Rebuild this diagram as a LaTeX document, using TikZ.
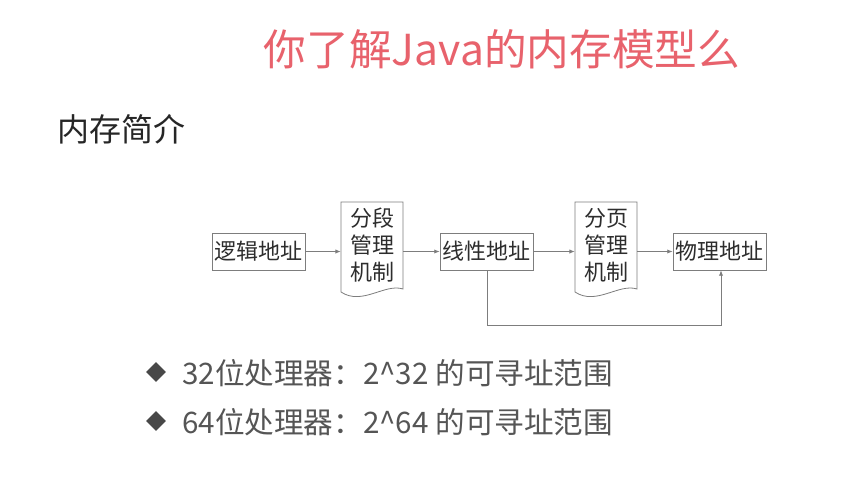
\documentclass[tikz,border=0pt]{standalone}
\usepackage{fontspec}
\setmainfont{Noto Sans CJK SC}
\usetikzlibrary{arrows.meta,shapes.geometric}
\definecolor{titlered}{RGB}{232,98,108}
\definecolor{linegray}{RGB}{125,125,125}
\definecolor{boxtext}{RGB}{45,45,45}
\definecolor{bullettext}{RGB}{85,85,85}
\begin{document}
\begin{tikzpicture}[x=0.75pt,y=-0.75pt,
  addrbox/.style={draw=linegray,line width=0.6pt,minimum width=93*0.75pt,minimum height=37*0.75pt,inner sep=0pt,text=boxtext,font=\fontsize{16.5}{18}\selectfont},
  docnode/.style={minimum width=62*0.75pt,minimum height=86*0.75pt,inner sep=0pt,text=boxtext,align=center,font=\fontsize{16.5}{20.3}\selectfont},
  docline/.style={draw=linegray,line width=0.6pt},
  conn/.style={draw=linegray,line width=0.6pt,-{Latex[length=4pt,width=3.2pt]}},
  bulletmark/.style={diamond,fill=bullettext!85!black,minimum width=20*0.75pt,minimum height=20*0.75pt,inner sep=0pt},
  bullettxt/.style={anchor=west,text=bullettext,inner sep=0pt,font=\fontsize{22.2}{24}\selectfont}]
\useasboundingbox[fill=white] (0,0) rectangle (859,496);

\node[text=titlered,font=\fontsize{32}{34}\selectfont] (title) at (502,49) {你了解Java的内存模型么};
\node[anchor=west,text=black!85,inner sep=0pt,font=\fontsize{24}{26}\selectfont] (intro) at (57,129) {内存简介};

\node[addrbox] (logic) at (258.5,251.5) {逻辑地址};
\node[docnode] (seg) at (372,245) {分段\\管理\\机制};
\node[addrbox] (linear) at (486.5,251.5) {线性地址};
\node[docnode] (page) at (606,245) {分页\\管理\\机制};
\node[addrbox] (phys) at (719.5,251.5) {物理地址};

\draw[docline] (341,292) -- (341,202) -- (403,202) -- (403,289)
  .. controls (385,283) and (362,306) .. cycle;
\draw[docline] (575,292) -- (575,202) -- (637,202) -- (637,289)
  .. controls (619,283) and (596,306) .. cycle;

\draw[conn] (logic.east) -- (seg.west |- logic.east);
\draw[conn] (seg.east |- linear.west) -- (linear.west);
\draw[conn] (linear.east) -- (page.west |- linear.east);
\draw[conn] (page.east |- phys.west) -- (phys.west);
\coordinate (c1) at (487,325);
\coordinate (c2) at (721,325);
\draw[conn] (c1 |- linear.south) -- (c1) -- (c2) -- (c2 |- phys.south);

\node[bulletmark] (b1) at (156,372) {};
\node[bullettxt] (t1) at (182,373) {32位处理器：2\^{}32 的可寻址范围};
\node[bulletmark] (b2) at (156,421) {};
\node[bullettxt] (t2) at (182,422) {64位处理器：2\^{}64 的可寻址范围};
\end{tikzpicture}
\end{document}
